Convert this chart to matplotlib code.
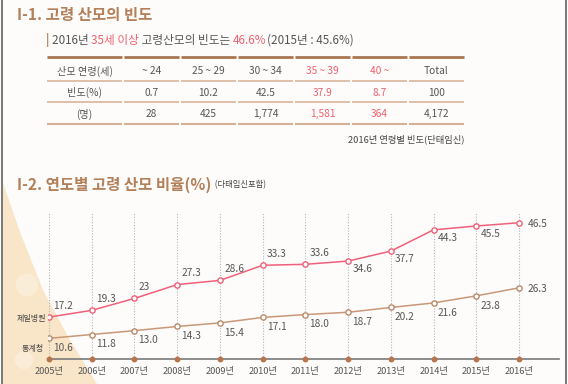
import matplotlib
matplotlib.use("Agg")
import matplotlib.pyplot as plt
from matplotlib.patches import Polygon, Circle
import numpy as np

plt.rcParams['font.family'] = ['Noto Sans CJK KR', 'DejaVu Sans']

# ---------------- data ----------------
table_header = ["산모 연령(세)", "~ 24", "25 ~ 29", "30 ~ 34", "35 ~ 39", "40 ~", "Total"]
freq_pct = ["빈도(%)", "0.7", "10.2", "42.5", "37.9", "8.7", "100"]
freq_n = ["(명)", "28", "425", "1,774", "1,581", "364", "4,172"]
highlight_cols = [4, 5]

years = ["2005년", "2006년", "2007년", "2008년", "2009년", "2010년",
         "2011년", "2012년", "2013년", "2014년", "2015년", "2016년"]
cheil = [17.2, 19.3, 23, 27.3, 28.6, 33.3, 33.6, 34.6, 37.7, 44.3, 45.5, 46.5]
cheil_labels = ["17.2", "19.3", "23", "27.3", "28.6", "33.3", "33.6", "34.6", "37.7", "44.3", "45.5", "46.5"]
stat = [10.6, 11.8, 13.0, 14.3, 15.4, 17.1, 18.0, 18.7, 20.2, 21.6, 23.8, 26.3]
stat_labels = ["10.6", "11.8", "13.0", "14.3", "15.4", "17.1", "18.0", "18.7", "20.2", "21.6", "23.8", "26.3"]
series_names = ["제일병원", "통계청"]

# ---------------- style ----------------
W, H = 568, 384
BROWN = "#b3805a"
PINK = "#f0607a"
PINK_TXT = "#f0606e"
LBROWN = "#c99878"
GRAY = "#555555"

fig = plt.figure(figsize=(W / 100, H / 100), dpi=100)
fig.patch.set_facecolor("#fdfcfa")

# layout axes in pixel coordinates
bg = fig.add_axes([0, 0, 1, 1])
bg.set_xlim(0, W)
bg.set_ylim(H, 0)
bg.axis("off")

# beige wedge
wedge = Polygon([(3, 183), (20, 232), (43, 290), (70, 340), (97, 384), (3, 384)],
                closed=True, facecolor="#f9e6c8", edgecolor="none", zorder=0)
bg.add_patch(wedge)
for cx, cy, r in [(27, 285, 11), (24, 360, 9)]:
    bg.add_patch(Circle((cx, cy), r, facecolor="white", alpha=0.3, edgecolor="none", zorder=0))

# frame lines
bg.plot([2, 2], [0, H], color="#6e6e6e", lw=1.3, zorder=1)
bg.plot([566, 566], [0, H], color="#6e6e6e", lw=1.3, zorder=1)

# titles
bg.text(17, 15, "I-1. 고령 산모의 빈도", fontsize=11.2, fontweight="bold",
        color=BROWN, va="center", ha="left")

segs = [("| ", BROWN), ("2016년 ", GRAY), ("35세 이상", PINK_TXT), (" 고령산모의 빈도는 ", GRAY),
        ("46.6%", PINK_TXT), ("(2015년 : 45.6%)", GRAY)]
prev = bg.text(46, 40, segs[0][0], fontsize=8.4, color=segs[0][1], va="center", ha="left",
               fontweight="bold")
for s, c in segs[1:]:
    prev = bg.annotate(s, xycoords=prev, xy=(1, 0), va="bottom", ha="left",
                       fontsize=8.4, color=c)

# table
col_l = [47, 124, 181, 238, 295, 352, 409]
col_r = [122, 179, 236, 293, 350, 407, 464]
col_c = [(a + b) / 2 for a, b in zip(col_l, col_r)]
for a, b in zip(col_l, col_r):
    bg.plot([a, b], [57, 57], color="#a87651", lw=2.0, solid_capstyle="butt")
    for yy in (81, 102):
        bg.plot([a, b], [yy, yy], color="#dcbba3", lw=1.3, solid_capstyle="butt")
    bg.plot([a, b], [124, 124], color="#d4b096", lw=1.5, solid_capstyle="butt")

for row, yy in zip([table_header, freq_pct, freq_n], [71.5, 92.5, 114]):
    for j, t in enumerate(row):
        c = PINK_TXT if j in highlight_cols else "#555555"
        bg.text(col_c[j], yy, t, fontsize=7.3, color=c, ha="center", va="center")

bg.text(464, 139, "2016년 연령별 빈도(단태임신)", fontsize=6.7, color="#444444",
        ha="right", va="center")

t2 = bg.text(17, 185, "I-2. 연도별 고령 산모 비율(%)", fontsize=11.2, fontweight="bold",
             color=BROWN, va="center", ha="left")
bg.annotate("  (다태임신포함)", xycoords=t2, xy=(1, 0.22), va="bottom", ha="left",
            fontsize=6.0, color="#444444")

# ---------------- chart ----------------
px_per = 470 / 11
x_left_px, x_right_px = 48, 559
y_bot_px, y_top_px = 359, 212
y0_px, slope = 372.5, 3.22
ax = fig.add_axes([x_left_px / W, (H - y_bot_px) / H,
                   (x_right_px - x_left_px) / W, (y_bot_px - y_top_px) / H])
ax.patch.set_alpha(0)
ax.set_xlim((x_left_px - 49) / px_per, (x_right_px - 49) / px_per)
ylo = (y0_px - y_bot_px) / slope
yhi = (y0_px - y_top_px) / slope
ax.set_ylim(ylo, yhi)

x = np.arange(len(years))
for xi in x:
    ax.plot([xi, xi], [ylo, yhi], color="#b5b5b5", lw=0.8, ls=(0, (1, 1.5)), zorder=1)

ax.plot(x, cheil, color=PINK, lw=1.1, marker="o", ms=3.8, mfc="white", mec=PINK, mew=1.0, zorder=3)
ax.plot(x, stat, color=LBROWN, lw=1.1, marker="o", ms=3.8, mfc="white", mec="#b98a6c", mew=1.0, zorder=3)
ax.plot(x, [ylo] * len(x), ls="none", marker="o", ms=3.2, color="#b8744a", clip_on=False, zorder=4)

for spine in ["top", "right", "left"]:
    ax.spines[spine].set_visible(False)
ax.spines["bottom"].set_color("#7a7a7a")
ax.spines["bottom"].set_linewidth(1.2)
ax.set_yticks([])
ax.set_xticks(x)
ax.set_xticklabels(years, fontsize=6.6, color=GRAY)
ax.tick_params(axis="x", length=0, pad=5.5)

n = len(x)
for i in range(n):
    if i == n - 1:
        off_c = (6, -1)
        off_s = (6, -1)
    else:
        off_c = (3, 8) if i < 7 else (3, -6)
        off_s = (3, -7)
    ax.annotate(cheil_labels[i], (x[i], cheil[i]), xytext=off_c, textcoords="offset points",
                fontsize=7.3, color=GRAY, ha="left", va="center")
    ax.annotate(stat_labels[i], (x[i], stat[i]), xytext=off_s, textcoords="offset points",
                fontsize=7.3, color=GRAY, ha="left", va="center")

# series names at left of first points
ax.annotate(series_names[0], (x[0], cheil[0]), xytext=(-12.5, -1), textcoords="offset points",
            fontsize=5.8, color="#444444", ha="center", va="center")
ax.annotate(series_names[1], (x[0], stat[0]), xytext=(-11.5, -7), textcoords="offset points",
            fontsize=5.8, color="#444444", ha="center", va="center")

fig.savefig("out.png", dpi=100, facecolor=fig.get_facecolor())
